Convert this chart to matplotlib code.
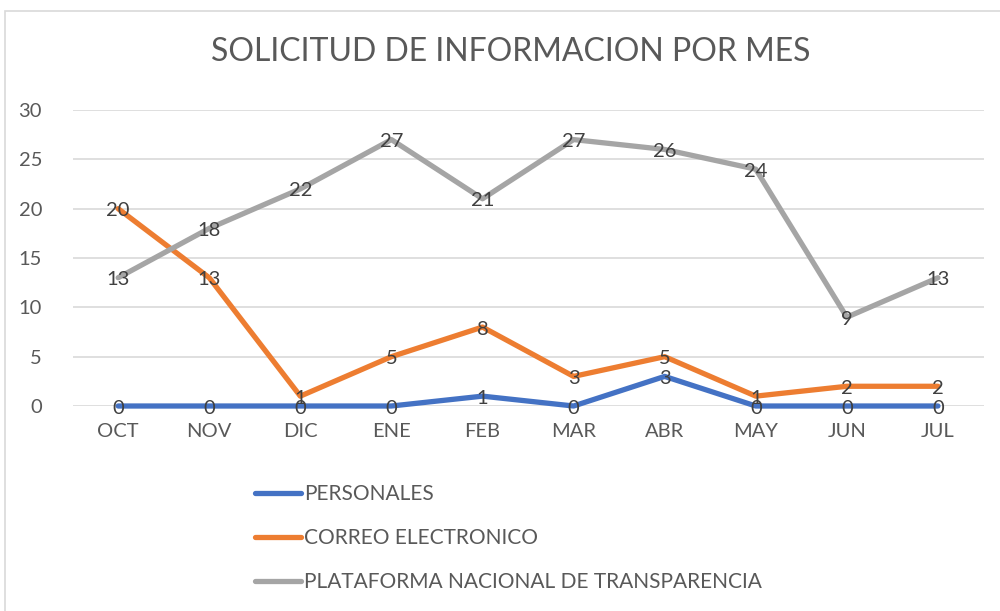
import matplotlib
matplotlib.use("Agg")
import matplotlib.pyplot as plt
from matplotlib.patches import Rectangle
from matplotlib.lines import Line2D
from matplotlib.transforms import offset_copy

months = ["OCT", "NOV", "DIC", "ENE", "FEB", "MAR", "ABR", "MAY", "JUN", "JUL"]
personales = [0, 0, 0, 0, 1, 0, 3, 0, 0, 0]
correo = [20, 13, 1, 5, 8, 3, 5, 1, 2, 2]
plataforma = [13, 18, 22, 27, 21, 27, 26, 24, 9, 13]
series_names = ["PERSONALES", "CORREO ELECTRONICO", "PLATAFORMA NACIONAL DE TRANSPARENCIA"]
colors = ["#4472C4", "#ED7D31", "#A5A5A5"]
yticks = [0, 5, 10, 15, 20, 25, 30]

plt.rcParams["font.family"] = ["Lato", "DejaVu Sans"]
text_color = "#595959"
label_color = "#404040"

fig = plt.figure(figsize=(10, 6.11), dpi=100)
fig.patches.append(Rectangle((0.005, -0.05), 1.2, 1.032, transform=fig.transFigure,
                             fill=False, edgecolor="#D9D9D9", linewidth=1.2))

ax = fig.add_axes([0.0726, 0.3355, 0.9109, 0.4845])
x = list(range(len(months)))
all_series = [personales, correo, plataforma]
for vals, c in zip(all_series, colors):
    ax.plot(x, vals, color=c, linewidth=3.8, solid_capstyle="round", zorder=3, clip_on=False)

label_tf = offset_copy(ax.transData, fig=fig, x=0, y=-2, units="dots")
for vals in all_series:
    for xi, v in zip(x, vals):
        ax.text(xi, v, str(v), ha="center", va="center", fontsize=14.5,
                color=label_color, zorder=4, transform=label_tf)

ax.set_xlim(-0.5, len(months) - 0.5)
ax.set_ylim(0, 30)
ax.set_yticks(yticks)
ax.set_xticks(x)
ax.set_xticklabels(months)
ax.tick_params(axis="both", length=0, labelsize=14.5, labelcolor=text_color)
ax.tick_params(axis="y", pad=22)
ax.tick_params(axis="x", pad=12)
ax.grid(axis="y", color="#D9D9D9", linewidth=1.2)
ax.set_axisbelow(True)
for s in ax.spines.values():
    s.set_visible(False)

fig.text(0.511, 0.915, "SOLICITUD DE INFORMACION POR MES", ha="center", va="center",
         fontsize=23, color=text_color)

handles = [Line2D([0], [0], color=c, linewidth=3.8, solid_capstyle="round") for c in colors]
fig.legend(handles, series_names, loc="upper left", bbox_to_anchor=(0.236, 0.238),
           frameon=False, fontsize=15, labelcolor=text_color, handlelength=2.2,
           handletextpad=0.15, labelspacing=1.15)

fig.savefig("out.png", dpi=100)
